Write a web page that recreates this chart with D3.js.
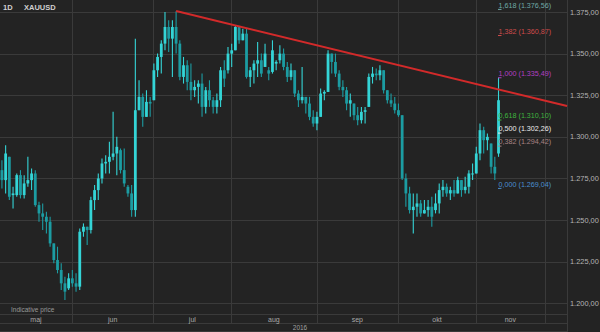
<!DOCTYPE html>
<html><head><meta charset="utf-8">
<script src="https://cdn.jsdelivr.net/npm/d3@7"></script>
<style>
html,body{margin:0;padding:0;background:#232323;overflow:hidden;}
svg{display:block;}
text{font-family:"Liberation Sans",Arial,sans-serif;}
</style></head><body>
<svg id="chart" width="600" height="332"></svg>
<script>
// trading-day index (0 = 2 May 2016) of the first candle
const firstIndex = 3;
const opens = [
1280,1274,1288,1265,1265,1277,1265,1272,1274,1278,
1259,1254,1252,1249,1236,1226,1220,1212,1209,1215,
1212,1210,1243,1246,1244,1262,1268,1275,1284,1285,
1288,1290,1292,1280,1270,1266,1256,1316,1324,1312,
1321,1322,1340,1348,1356,1366,1359,1366,1356,1336,
1343,1333,1328,1330,1332,1318,1328,1322,1318,1322,
1340,1340,1350,1352,1366,1358,1362,1336,1340,1344,
1346,1342,1340,1339,1344,1346,1350,1342,1336,1340,
1326,1322,1324,1320,1312,1308,1312,1326,1327,1350,
1345,1338,1330,1328,1320,1320,1313,1310,1315,1318,
1336,1338,1337,1340,1328,1322,1320,1316,1313,1275,
1266,1256,1258,1260,1254,1256,1258,1256,1260,1268,
1270,1266,1268,1266,1274,1268,1270,1278,1278,1290,
1304,1298,1296,1282,1290];
const highs = [
1286,1295,1288,1270,1278,1280,1277,1288,1281,1280,
1261,1260,1255,1252,1236,1234,1224,1216,1218,1220,
1218,1245,1248,1246,1264,1271,1278,1287,1289,1297,
1315,1300,1293,1293,1271,1271,1359,1334,1326,1328,
1324,1344,1350,1358,1375,1370,1370,1375.5,1358,1348,
1346,1344,1334,1334,1338,1330,1334,1324,1326,1342,
1346,1354,1356,1367,1366,1365,1365,1342,1346,1357,
1350,1356,1342,1358,1346,1355,1353,1345,1344,1340,
1328,1342,1324,1324,1316,1315,1329,1328,1352,1350,
1350,1340,1334,1330,1326,1320,1318,1318,1318,1338,
1342,1341,1343,1340,1328,1326,1324,1320,1313,1278,
1270,1266,1266,1262,1262,1262,1264,1266,1272,1274,
1272,1270,1274,1276,1274,1276,1280,1284,1294,1308,
1306,1302,1296,1288,1335.5];
const lows = [
1269,1266,1262,1257,1264,1263,1263,1270,1268,1258,
1249,1244,1242,1234,1224,1218,1208,1202,1208,1210,
1207,1208,1240,1235,1242,1256,1262,1272,1278,1278,
1286,1277,1278,1270,1264,1252,1252,1316,1306,1312,
1312,1322,1336,1338,1352,1351,1336,1350,1334,1332,
1328,1322,1324,1320,1312,1314,1318,1314,1314,1318,
1330,1338,1342,1352,1356,1358,1335,1330,1332,1336,
1336,1342,1334,1338,1340,1344,1340,1333,1334,1324,
1318,1320,1314,1310,1306,1304,1312,1322,1327,1338,
1336,1328,1324,1316,1312,1310,1307,1308,1308,1318,
1332,1334,1334,1326,1320,1318,1314,1312,1274,1258,
1254,1242,1252,1252,1254,1252,1246,1254,1254,1264,
1264,1262,1264,1266,1264,1266,1266,1274,1278,1286,
1290,1292,1278,1274,1288];
const closes = [
1274,1290,1264,1266,1277,1265,1272,1274,1278,1259,
1254,1252,1249,1236,1226,1220,1212,1207,1215,1212,
1210,1243,1246,1244,1262,1268,1275,1284,1285,1288,
1290,1294,1280,1272,1266,1256,1316,1324,1312,1321,
1320,1340,1348,1356,1366,1359,1366,1356,1336,1343,
1333,1328,1330,1332,1318,1328,1322,1318,1322,1340,
1335,1350,1352,1366,1358,1362,1336,1340,1344,1346,
1338,1350,1338,1352,1345,1350,1342,1336,1340,1326,
1322,1324,1320,1312,1308,1312,1326,1327,1350,1345,
1338,1330,1328,1320,1322,1313,1310,1315,1316,1336,
1338,1337,1340,1328,1322,1320,1316,1313,1275,1266,
1256,1258,1260,1254,1256,1258,1252,1260,1268,1270,
1266,1268,1266,1274,1268,1270,1278,1278,1290,1304,
1298,1300,1282,1278,1322];

const monthLabels = ["maj","jun","jul","aug","sep","okt","nov"];
const monthStartIndex = [0,22,44,65,88,110,131];
const axisEndIndex = 149.5;
const yTicks = [1200,1225,1250,1275,1300,1325,1350,1375];
const fibRatios = ["1,618","1,382","1,000","0,618","0,500","0,382","0,000"];
const fibPrices = [1376.56,1360.87,1335.49,1310.10,1302.26,1294.42,1269.04];
const fibIndex = 137;
const trendIndex = [50,155.5];
const trendPrice = [1375.6,1318.5];
const symbolText = "XAUUSD";
const periodText = "1D";
const yearText = "2016";
const noteText = "Indicative price";

// ---- styles / layout ----
const W = 600, H = 332, plotR = 567, plotB = 304;
const fibColors = ["#6fa9a7","#cf4b4b","#b23fc4","#3fb53f","#ececec","#a88484","#4a8fd0"];
const upColor = "#34d4d6", downColor = "#1c9ca2";
const gridColor = "#3a3a3a";

const loc = d3.formatLocale({decimal:",",thousands:".",grouping:[3],currency:["",""]});
const fmtPrice = loc.format(",.2f");

const svg = d3.select("#chart");
svg.append("rect").attr("width",W).attr("height",H).attr("fill","#232323");

const x = d3.scaleLinear().domain([2.48,155.48]).range([0,plotR]);
const y = d3.scaleLinear().domain([1200,1375]).range([303.3,12]);

const candles = opens.map((o,k)=>({i:firstIndex+k,o,h:highs[k],l:lows[k],c:closes[k]}));

// horizontal grid
svg.append("g").selectAll("line").data(yTicks).join("line")
  .attr("x1",0).attr("x2",plotR)
  .attr("y1",d=>Math.round(y(d))+0.5).attr("y2",d=>Math.round(y(d))+0.5)
  .attr("stroke",gridColor).attr("stroke-width",1);

// bottom bands
[314,323,331].forEach(v=>{
  svg.append("line").attr("x1",0).attr("x2",plotR).attr("y1",v+0.5).attr("y2",v+0.5)
    .attr("stroke",gridColor);
});

// month grid lines
const bx = monthStartIndex.map(i=>x(i)-0.4);
const boundaries = bx.concat([x(axisEndIndex)]);
svg.append("g").selectAll("line").data(boundaries.filter(v=>v>0)).join("line")
  .attr("x1",d=>Math.round(d)+0.5).attr("x2",d=>Math.round(d)+0.5)
  .attr("y1",0).attr("y2",323).attr("stroke",gridColor);
svg.append("line").attr("x1",plotR+0.5).attr("x2",plotR+0.5).attr("y1",0).attr("y2",H)
  .attr("stroke",gridColor);

// month labels
svg.append("g").selectAll("text").data(monthLabels).join("text")
  .attr("x",(d,k)=>(Math.max(0,boundaries[k])+boundaries[k+1])/2)
  .attr("y",321.5).attr("text-anchor","middle")
  .attr("font-size",7).attr("fill","#a8a8a8").text(d=>d);

svg.append("text").attr("x",W/2).attr("y",330).attr("text-anchor","middle")
  .attr("font-size",6.5).attr("fill","#a0a0a0").text(yearText);
svg.append("text").attr("x",11).attr("y",312).attr("font-size",6.5)
  .attr("fill","#9a9a9a").text(noteText);

// candles
svg.append("clipPath").attr("id","pc").append("rect")
  .attr("x",0).attr("y",0).attr("width",plotR).attr("height",plotB);
const cg = svg.append("g").attr("clip-path","url(#pc)");
const cs = cg.selectAll("g").data(candles).join("g");
cs.append("line")
  .attr("x1",d=>x(d.i)).attr("x2",d=>x(d.i))
  .attr("y1",d=>y(d.h)).attr("y2",d=>y(d.l))
  .attr("stroke",d=>d.c>=d.o?upColor:downColor).attr("stroke-width",1.1);
cs.append("rect")
  .attr("x",d=>x(d.i)-1.4).attr("width",2.8)
  .attr("y",d=>y(Math.max(d.o,d.c)))
  .attr("height",d=>Math.max(1,Math.abs(y(d.o)-y(d.c))))
  .attr("fill",d=>d.c>=d.o?upColor:downColor);

// trend line
svg.append("line")
  .attr("x1",x(trendIndex[0])).attr("y1",y(trendPrice[0]))
  .attr("x2",x(trendIndex[1])).attr("y2",y(trendPrice[1]))
  .attr("stroke","#d22a2a").attr("stroke-width",2);

// fibonacci labels
const fg = svg.append("g").selectAll("g").data(fibPrices).join("g");
fg.append("line").attr("x1",x(fibIndex)-0.5).attr("x2",x(fibIndex)+3)
  .attr("y1",d=>y(d)).attr("y2",d=>y(d))
  .attr("stroke",(d,k)=>fibColors[k]).attr("stroke-width",1);
fg.append("text").attr("x",x(fibIndex)).attr("y",d=>y(d)-1.8)
  .attr("font-size",7.2).attr("fill",(d,k)=>fibColors[k])
  .text((d,k)=>fibRatios[k]+" ("+fmtPrice(d)+")");

// right axis labels
svg.append("g").selectAll("text").data(yTicks).join("text")
  .attr("x",570).attr("y",d=>y(d)+2.6)
  .attr("font-size",7.4).attr("fill","#b4b4b4").text(d=>fmtPrice(d));

// header
svg.append("text").attr("x",3).attr("y",10).attr("font-size",7.5).attr("font-weight","bold")
  .attr("fill","#d0d0d0").text(periodText);
svg.append("text").attr("x",24).attr("y",10).attr("font-size",7.5).attr("font-weight","bold")
  .attr("fill","#d0d0d0").text(symbolText);
</script>
</body></html>
